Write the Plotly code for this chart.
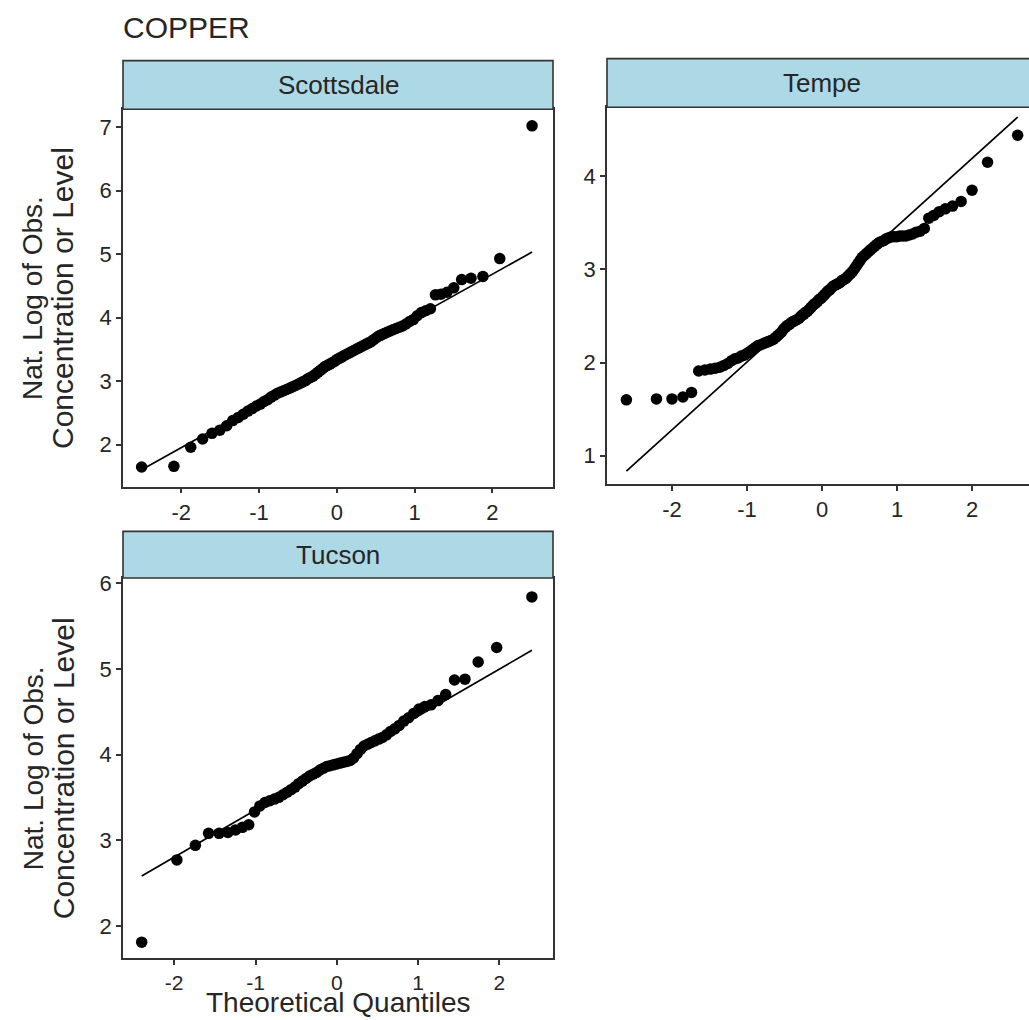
import statistics
import numpy as np
import plotly.graph_objects as go

# ---------------- data (sorted natural-log concentrations) -------------
scottsdale_values = [
    1.65, 1.66, 1.96, 2.09, 2.18, 2.23, 2.30, 2.38, 2.43, 2.48,
    2.53, 2.57, 2.61, 2.64, 2.68, 2.71, 2.75, 2.78, 2.81, 2.83,
    2.85, 2.87, 2.89, 2.91, 2.93, 2.95, 2.97, 2.99, 3.01, 3.04,
    3.06, 3.08, 3.11, 3.14, 3.17, 3.20, 3.23, 3.25, 3.27, 3.29,
    3.31, 3.34, 3.36, 3.38, 3.40, 3.42, 3.44, 3.46, 3.48, 3.50,
    3.52, 3.54, 3.56, 3.58, 3.60, 3.62, 3.65, 3.68, 3.71, 3.73,
    3.75, 3.77, 3.79, 3.81, 3.83, 3.85, 3.87, 3.90, 3.94, 3.97,
    4.03, 4.08, 4.11, 4.14, 4.36, 4.37, 4.40, 4.47, 4.60, 4.62,
    4.65, 4.93, 7.02,
]

tempe_values = [
    1.60, 1.61, 1.61, 1.63, 1.68, 1.91, 1.92, 1.93, 1.94, 1.95,
    1.97, 1.99, 2.02, 2.04, 2.05, 2.07, 2.08, 2.10, 2.12, 2.14,
    2.16, 2.18, 2.19, 2.20, 2.21, 2.22, 2.23, 2.24, 2.25, 2.27,
    2.29, 2.31, 2.33, 2.36, 2.38, 2.40, 2.41, 2.43, 2.44, 2.45,
    2.46, 2.47, 2.49, 2.51, 2.52, 2.54, 2.55, 2.57, 2.59, 2.61,
    2.63, 2.64, 2.66, 2.68, 2.69, 2.71, 2.73, 2.75, 2.77, 2.78,
    2.80, 2.82, 2.83, 2.84, 2.85, 2.86, 2.88, 2.89, 2.90, 2.92,
    2.94, 2.96, 2.98, 3.01, 3.04, 3.07, 3.10, 3.13, 3.15, 3.17,
    3.19, 3.21, 3.23, 3.25, 3.27, 3.29, 3.30, 3.31, 3.33, 3.34,
    3.35, 3.35, 3.35, 3.36, 3.36, 3.36, 3.37, 3.38, 3.40, 3.41,
    3.44, 3.55, 3.58, 3.62, 3.65, 3.68, 3.73, 3.85, 4.15, 4.44,
]

tucson_values = [
    1.81, 2.77, 2.94, 3.08, 3.08, 3.09, 3.12, 3.15, 3.18, 3.33,
    3.40, 3.44, 3.46, 3.48, 3.50, 3.53, 3.56, 3.59, 3.62, 3.66,
    3.69, 3.72, 3.75, 3.77, 3.79, 3.82, 3.84, 3.86, 3.87, 3.88,
    3.89, 3.90, 3.91, 3.92, 3.93, 3.96, 4.01, 4.06, 4.10, 4.12,
    4.14, 4.16, 4.18, 4.20, 4.23, 4.27, 4.30, 4.34, 4.39, 4.43,
    4.48, 4.53, 4.56, 4.58, 4.63, 4.70, 4.87, 4.88, 5.08, 5.25,
    5.84,
]

panel_names = ["Scottsdale", "Tempe", "Tucson"]
x_ticks = [-2, -1, 0, 1, 2]
scottsdale_yticks = [2, 3, 4, 5, 6, 7]
tempe_yticks = [1, 2, 3, 4]
tucson_yticks = [2, 3, 4, 5, 6]

title_text = "COPPER"
y_title_lines = ["Nat. Log of Obs.", "Concentration or Level"]
x_title = "Theoretical Quantiles"

# ---------------- helpers -------------
W, H = 1029, 1020
FONT = "Liberation Sans, Arial, Helvetica, sans-serif"
INK = "#262626"
nd = statistics.NormalDist()


def px(x):
    return x / W


def py(y):
    return 1 - y / H


def theoretical(values):
    n = len(values)
    a = 0.375 if n <= 10 else 0.5
    return [nd.inv_cdf((i + 1 - a) / (n + 1 - 2 * a)) for i in range(n)]


def qq_line(values, xs):
    q1, q3 = np.percentile(values, [25, 75])
    z1, z3 = nd.inv_cdf(0.25), nd.inv_cdf(0.75)
    slope = (q3 - q1) / (z3 - z1)
    intercept = q1 - slope * z1
    lx = [min(xs), max(xs)]
    return lx, [intercept + slope * v for v in lx]


datasets = [scottsdale_values, tempe_values, tucson_values]
fig = go.Figure()
for k, vals in enumerate(datasets):
    ax = "" if k == 0 else str(k + 1)
    xs = theoretical(vals)
    lx, ly = qq_line(vals, xs)
    fig.add_trace(go.Scatter(x=lx, y=ly, mode="lines", line=dict(color="black", width=1.7),
                             xaxis="x" + ax, yaxis="y" + ax, hoverinfo="skip"))
    fig.add_trace(go.Scatter(x=xs, y=vals, mode="markers",
                             marker=dict(color="black", size=11.5, line=dict(width=0)),
                             xaxis="x" + ax, yaxis="y" + ax))

# panel geometry in pixels: (left, right, top, bottom, strip_top)
panels = [
    (123, 553, 103, 483, 54),
    (607, 1037, 101, 480, 52),
    (123, 553, 575, 958, 528),
]
x_ranges = [[-2.75, 2.78], [-2.867, 2.76], [-2.63, 2.66]]
y_ranges = [[1.34, 7.28], [0.70, 4.74], [1.62, 6.06]]
y_ticks = [scottsdale_yticks, tempe_yticks, tucson_yticks]

axis_common = dict(
    showgrid=False, zeroline=False, showline=True, linecolor="#333333", linewidth=1.6,
    ticks="outside", ticklen=5, tickwidth=1.5, tickcolor="#333333",
    tickfont=dict(family=FONT, size=22, color=INK),
)

layout_axes = {}
shapes = []
annotations = []
for k, (l, r, t, b, st) in enumerate(panels):
    suf = "" if k == 0 else str(k + 1)
    xd = [px(l), min(1.0, px(r))]
    xr = x_ranges[k]
    xa = dict(
        axis_common, domain=xd, range=xr, tickvals=x_ticks,
        ticktext=[str(v) for v in x_ticks],
        anchor="y" + suf, mirror=True,
    )
    if k == 2:
        xa["tickfont"] = dict(family=FONT, size=21, color=INK)
    layout_axes["xaxis" + suf] = xa
    layout_axes["yaxis" + suf] = dict(
        axis_common, domain=[py(b), py(t)], range=y_ranges[k], tickvals=y_ticks[k],
        anchor="x" + suf, mirror=(k != 1),
    )
    # strip
    shapes.append(dict(type="rect", xref="paper", yref="paper",
                       x0=px(l), x1=px(r), y0=py(t), y1=py(st),
                       fillcolor="#ADD8E6", line=dict(color="#333333", width=1.6), layer="above"))
    annotations.append(dict(xref="paper", yref="paper", x=px((l + r) / 2), y=py((st + t) / 2),
                            text=panel_names[k], showarrow=False, xanchor="center", yanchor="middle",
                            font=dict(family=FONT, size=26, color=INK)))

# y axis titles (for left column panels)
for (l, r, t, b, st) in [panels[0], panels[2]]:
    cy = py((t + b) / 2)
    for xpos, line, fs in zip([33, 63], y_title_lines, [28, 30]):
        annotations.append(dict(xref="paper", yref="paper", x=px(xpos), y=cy, text=line,
                                textangle=-90, showarrow=False, xanchor="center", yanchor="middle",
                                font=dict(family=FONT, size=fs, color=INK)))

annotations.append(dict(xref="paper", yref="paper", x=px(338), y=py(1020), text=x_title,
                        showarrow=False, xanchor="center", yanchor="bottom",
                        font=dict(family=FONT, size=28, color=INK)))
annotations.append(dict(xref="paper", yref="paper", x=px(121), y=py(21), text=title_text,
                        showarrow=False, xanchor="left", yanchor="middle",
                        font=dict(family=FONT, size=30, color=INK)))

fig.update_layout(
    width=W, height=H, margin=dict(l=0, r=0, t=0, b=0),
    paper_bgcolor="white", plot_bgcolor="white", showlegend=False,
    shapes=shapes, annotations=annotations, **layout_axes,
)

fig.write_html("out.html")
